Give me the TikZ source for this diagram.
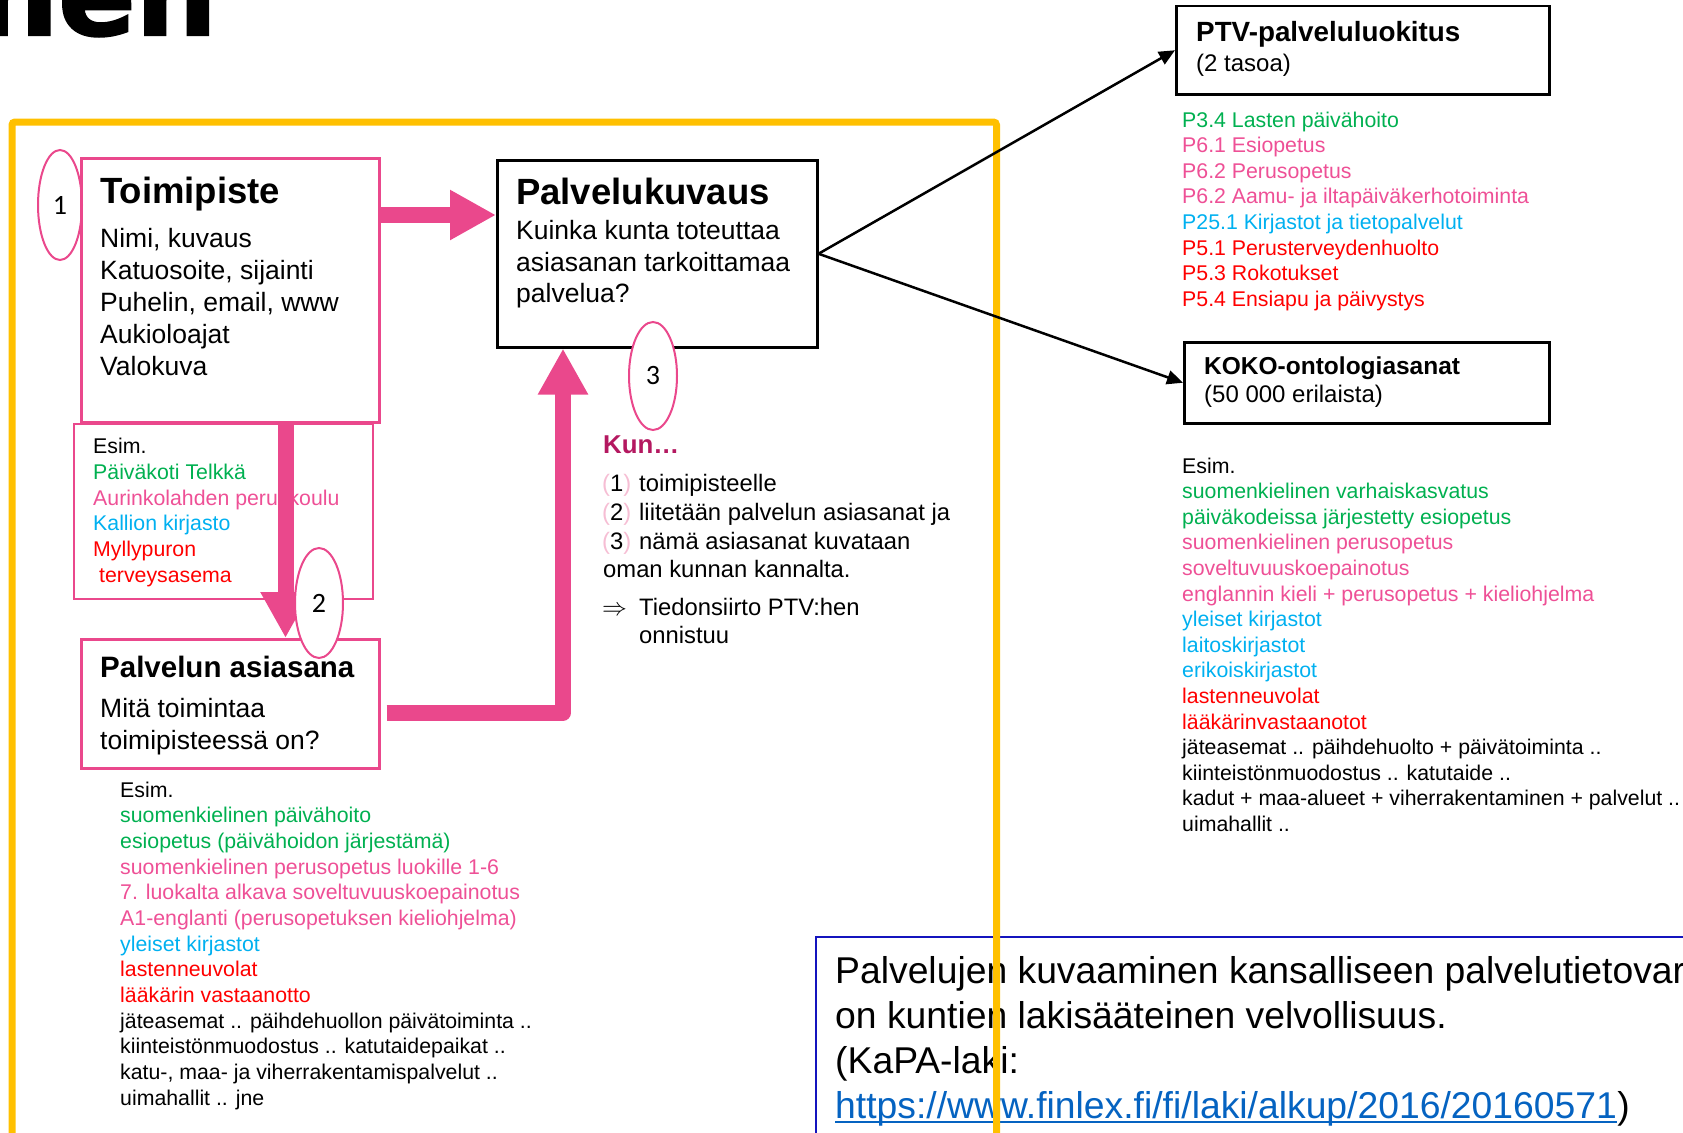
\documentclass[tikz,border=0pt]{standalone}
\usepackage{fontspec}
\setmainfont{Liberation Sans}
\newfontfamily\numfont{Carlito}
\newfontfamily\headfont[FakeBold=2]{DejaVu Sans Bold}
\usetikzlibrary{arrows.meta,shapes.geometric}
\definecolor{pinkline}{RGB}{234,72,140}
\definecolor{pinkt}{RGB}{238,80,150}
\definecolor{greent}{RGB}{0,176,80}
\definecolor{cyant}{RGB}{0,176,240}
\definecolor{redt}{RGB}{255,0,0}
\definecolor{yellowf}{RGB}{255,192,0}
\definecolor{bluebox}{RGB}{20,20,190}
\definecolor{linkc}{RGB}{5,99,193}
\definecolor{kunc}{RGB}{180,24,96}
\definecolor{parenc}{RGB}{246,190,212}
\newcommand\fs[2]{\fontsize{#1}{#2}\selectfont}
\begin{document}
\begin{tikzpicture}[x=1pt,y=-1pt,
  bbox/.style={draw=black, line width=2.5pt, inner sep=0pt, anchor=north west},
  pbox/.style={draw=pinkline, line width=2.5pt, inner sep=0pt, anchor=north west},
  txt/.style={anchor=base west, inner sep=0pt, text=black},
  bigt/.style={txt, font=\fs{36.5}{40}\bfseries},
  body/.style={txt, font=\fs{26.5}{32}},
  lst/.style={txt, font=\fs{21.3}{25}},
  kun/.style={txt, font=\fs{23.8}{29}},
  law/.style={txt, font=\fs{37.3}{44}},
  numell/.style={ellipse, draw=pinkline, fill=white, line width=2pt, inner sep=0pt, font=\numfont\fs{28}{30}},
  pinkarrow/.style={draw=pinkline, line width=16pt, line join=round, -{Triangle[width=47pt,length=46pt]}},
  blackarrow/.style={draw=black, line width=2.5pt, -{Triangle[width=14pt,length=16pt]}}]
\useasboundingbox (0,0) rectangle (1683,1132);
\clip (0,0) rectangle (1683,1132);

% cut-off heading
\node[anchor=base east, inner sep=0pt, font=\headfont\fs{114}{114}] (head) at (217,35) {nen};

% law box (under the yellow frame)
\node[draw=bluebox, line width=2pt, anchor=north west, minimum width=900pt, minimum height=220pt, inner sep=0pt] (law) at (815,936) {};
\node[law] (law1) at (835,983) {Palvelujen kuvaaminen kansalliseen palvelutietovarantoon};
\node[law] (law2) at (835,1028) {on kuntien lakisääteinen velvollisuus.};
\node[law] (law3) at (835,1073) {(KaPA-laki:};
\node[law, text=linkc] (link) at (835,1118) {https://www.finlex.fi/fi/laki/alkup/2016/20160571};
\draw[linkc, line width=1.8pt] ([yshift=-4pt]link.base west) -- ([yshift=-4pt]link.base east);
\node[law] (law4) at (link.base east) {)};

% yellow frame
\draw[yellowf, line width=7pt, rounded corners=3pt] (12,1150) -- (12,122) -- (996.5,122) -- (996.5,1150);

% Toimipiste
\node[numell, minimum width=44pt, minimum height=110pt] (e1) at (60,205) {1};
\node[pbox, minimum width=298pt, minimum height=264pt] (toimi) at (80,157) {};
\node[bigt] (t0) at (100,203) {Toimipiste};
\node[body] (t1) at (100,247) {Nimi, kuvaus};
\node[body] (t2) at (100,279) {Katuosoite, sijainti};
\node[body] (t3) at (100,311) {Puhelin, email, www};
\node[body] (t4) at (100,343) {Aukioloajat};
\node[body] (t5) at (100,375) {Valokuva};

% Esim box 1
\node[pbox, line width=2pt, minimum width=299pt, minimum height=175pt] (esim1) at (73,423) {};
\node[lst] (a0) at (93,453) {Esim.};
\node[lst, text=greent] (a1) at (93,479) {Päiväkoti Telkkä};
\node[lst, text=pinkt] (a2) at (93,505) {Aurinkolahden peruskoulu};
\node[lst, text=cyant] (a3) at (93,530) {Kallion kirjasto};
\node[lst, text=redt] (a4) at (93,556) {Myllypuron};
\node[lst, text=redt] (a5) at (99,582) {terveysasema};

% Palvelukuvaus
\node[bbox, minimum width=320pt, minimum height=187pt] (palv) at (496,159) {};
\node[bigt] (p0) at (516,204) {Palvelukuvaus};
\node[body] (p1) at (516,239) {Kuinka kunta toteuttaa};
\node[body] (p2) at (516,271) {asiasanan tarkoittamaa};
\node[body] (p3) at (516,302) {palvelua?};

% arrow Toimipiste -> Palvelukuvaus
\coordinate (ya) at (0,215);
\draw[pinkarrow] (toimi.east |- ya) -- (palv.west |- ya);

% Palvelun asiasana
\node[pbox, minimum width=298pt, minimum height=129pt] (asia) at (80,638) {};
\node[txt, font=\fs{29.5}{34}\bfseries] (s0) at (100,677) {Palvelun asiasana};
\node[body] (s1) at (100,717) {Mitä toimintaa};
\node[body] (s2) at (100,749) {toimipisteessä on?};

% arrow Toimipiste -> asiasana
\coordinate (xd) at (285.5,0);
\draw[pinkarrow] (toimi.south -| xd) -- (asia.north -| xd);
\node[numell, minimum width=48pt, minimum height=110pt] (e2) at (319,603) {2};

% arrow asiasana -> Palvelukuvaus
\coordinate (yb) at (0,712.5);
\coordinate (xu) at (563,0);
\path (asia.east |- yb) coordinate (us);
\draw[pinkarrow] ([xshift=6pt]us) -- (xu |- yb) -- (palv.south -| xu);

\node[numell, minimum width=48pt, minimum height=108pt] (e3) at (653,376) {3};

% Kun...
\node[txt, font=\fs{25.8}{30}\bfseries, text=kunc] (k0) at (603,453.5) {Kun…};
\node[kun] (k1n) at (602,491) {{\color{parenc}(}1{\color{parenc})}};
\node[kun] (k1) at (639,491) {toimipisteelle};
\node[kun] (k2n) at (602,520) {{\color{parenc}(}2{\color{parenc})}};
\node[kun] (k2) at (639,520) {liitetään palvelun asiasanat ja};
\node[kun] (k3n) at (602,549) {{\color{parenc}(}3{\color{parenc})}};
\node[kun] (k3) at (639,549) {nämä asiasanat kuvataan};
\node[kun] (k4) at (603,577) {oman kunnan kannalta.};
\node[kun] (k5n) at (602,615) {$\Rightarrow$};
\node[kun] (k5) at (639,615) {Tiedonsiirto PTV:hen};
\node[kun] (k6) at (639,643) {onnistuu};

% Esim list 2
\foreach \c/\t [count=\i from 0] in {black/Esim.,
  greent/suomenkielinen päivähoito,
  greent/esiopetus (päivähoidon järjestämä),
  pinkt/suomenkielinen perusopetus luokille 1-6,
  pinkt/7. luokalta alkava soveltuvuuskoepainotus,
  pinkt/A1-englanti (perusopetuksen kieliohjelma),
  cyant/yleiset kirjastot,
  redt/lastenneuvolat,
  redt/lääkärin vastaanotto,
  black/jäteasemat .. päihdehuollon päivätoiminta ..,
  black/kiinteistönmuodostus .. katutaidepaikat ..,
  black/{katu-, maa- ja viherrakentamispalvelut ..},
  black/uimahallit .. jne}
  \node[lst, text=\c] (b\i) at (120,{797+25.67*\i}) {\t};

% PTV
\node[bbox, minimum width=373pt, minimum height=88pt] (ptv) at (1175,5) {};
\node[txt, font=\fs{27.8}{32}\bfseries] (v0) at (1196,42) {PTV-palveluluokitus};
\node[txt, font=\fs{24}{28}] (v1) at (1196,71) {(2 tasoa)};
\foreach \c/\t [count=\i from 0] in {greent/P3.4 Lasten päivähoito,
  pinkt/P6.1 Esiopetus,
  pinkt/P6.2 Perusopetus,
  pinkt/P6.2 Aamu- ja iltapäiväkerhotoiminta,
  cyant/P25.1 Kirjastot ja tietopalvelut,
  redt/P5.1 Perusterveydenhuolto,
  redt/P5.3 Rokotukset,
  redt/P5.4 Ensiapu ja päivystys}
  \node[lst, text=\c] (c\i) at (1182,{127+25.6*\i}) {\t};

% KOKO
\node[bbox, minimum width=365pt, minimum height=81pt] (koko) at (1183,341) {};
\node[txt, font=\fs{24.5}{28}\bfseries] (o0) at (1204,374) {KOKO-ontologiasanat};
\node[txt, font=\fs{24}{28}] (o1) at (1204,402) {(50 000 erilaista)};
\foreach \c/\t [count=\i from 0] in {black/Esim.,
  greent/suomenkielinen varhaiskasvatus,
  greent/päiväkodeissa järjestetty esiopetus,
  pinkt/suomenkielinen perusopetus,
  pinkt/soveltuvuuskoepainotus,
  pinkt/englannin kieli + perusopetus + kieliohjelma,
  cyant/yleiset kirjastot,
  cyant/laitoskirjastot,
  cyant/erikoiskirjastot,
  redt/lastenneuvolat,
  redt/lääkärinvastaanotot,
  black/jäteasemat .. päihdehuolto + päivätoiminta ..,
  black/kiinteistönmuodostus .. katutaide ..,
  black/kadut + maa-alueet + viherrakentaminen + palvelut ..,
  black/uimahallit ..}
  \node[lst, text=\c] (d\i) at (1182,{473+25.6*\i}) {\t};

% black arrows
\draw[blackarrow] (palv.east) -- (ptv.west);
\draw[blackarrow] (palv.east) -- (koko.west);
\end{tikzpicture}
\end{document}
